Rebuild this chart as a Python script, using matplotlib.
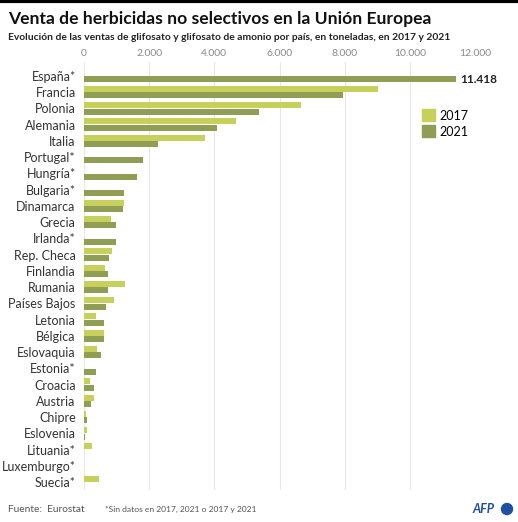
import numpy as np
import matplotlib
matplotlib.use('Agg')
import matplotlib.pyplot as plt
import matplotlib.patches as mpatches

matplotlib.rcParams['font.family'] = ['Lato', 'DejaVu Sans']

countries = ['España*', 'Francia', 'Polonia', 'Alemania', 'Italia', 'Portugal*',
             'Hungría*', 'Bulgaria*', 'Dinamarca', 'Grecia', 'Irlanda*', 'Rep. Checa',
             'Finlandia', 'Rumania', 'Países Bajos', 'Letonia', 'Bélgica', 'Eslovaquia',
             'Estonia*', 'Croacia', 'Austria', 'Chipre', 'Eslovenia', 'Lituania*',
             'Luxemburgo*', 'Suecia*']

# toneladas, NaN = sin datos
sales_2017 = [np.nan, 9020, 6670, 4680, 3710, np.nan,
              np.nan, np.nan, 1240, 830, np.nan, 850,
              645, 1260, 930, 380, 615, 410,
              np.nan, 195, 320, 60, 80, 235,
              10, 470]
sales_2021 = [11418, 7950, 5370, 4090, 2270, 1820,
              1625, 1240, 1205, 990, 985, 775,
              725, 725, 685, 615, 605, 520,
              355, 295, 215, 100, 40, np.nan,
              np.nan, np.nan]

xticks = [0, 2000, 4000, 6000, 8000, 10000, 12000]
xtick_labels = ['0', '2.000', '4.000', '6.000', '8.000', '10.000', '12.000']

COLOR_2017 = '#c6d05a'
COLOR_2021 = '#8f9d55'

fig = plt.figure(figsize=(5.18, 5.22), dpi=100)
fig.patch.set_facecolor('white')

# axes placed in pixel terms: x 84..475, y 62..490
W, H = 518, 522
top_px, bot_px = 62, 490
ax = fig.add_axes([84 / W, 1 - bot_px / H, (475 - 84) / W, (bot_px - top_px) / H])

row_px = 16.24
first_center = 76
ytop = (top_px - first_center) / row_px
ybot = (bot_px - first_center) / row_px

y = np.arange(len(countries))
bh = 0.37
ax.barh(y - 0.2, sales_2017, height=bh, color=COLOR_2017, zorder=3)
ax.barh(y + 0.2, sales_2021, height=bh, color=COLOR_2021, zorder=3)

ax.set_xlim(0, 12000)
ax.set_ylim(ybot, ytop)
ax.set_xticks(xticks)
ax.set_xticklabels(xtick_labels)
ax.xaxis.tick_top()
ax.tick_params(axis='x', length=0, pad=3, labelsize=7.5, labelcolor='#8a8a8a')
ax.set_yticks(y)
ax.set_yticklabels(countries)
ax.tick_params(axis='y', length=0, pad=6, labelsize=9, labelcolor='#333333')
for s in ax.spines.values():
    s.set_visible(False)
ax.grid(axis='x', color='#e8e8e8', lw=0.8, zorder=0)

ax.text(sales_2021[0] + 120, 0.2, '11.418', va='center', ha='left',
        fontsize=8.5, fontweight='bold', color='#222222')

patch_2017 = mpatches.Patch(color=COLOR_2017, label='2017')
patch_2021 = mpatches.Patch(color=COLOR_2021, label='2021')
ax.legend(handles=[patch_2017, patch_2021], loc='upper left',
          bbox_to_anchor=((416 - 84) / (475 - 84), 1 - (103 - top_px) / (bot_px - top_px)),
          frameon=False, fontsize=9, handlelength=1.0, handleheight=1.1,
          handletextpad=0.4, labelspacing=0.3, borderpad=0)

# header
fig.add_artist(plt.Line2D([0, 1], [1 - 1 / H, 1 - 1 / H], color='black', lw=3))
fig.text(8 / W, 1 - 19 / H, 'Venta de herbicidas no selectivos en la Unión Europea',
         fontsize=12.6, fontweight='bold', color='#111111', va='center')
fig.text(8 / W, 1 - 38 / H,
         'Evolución de las ventas de glifosato y glifosato de amonio por país, en toneladas, en 2017 y 2021',
         fontsize=7.35, fontweight='bold', color='#222222', va='center')

# footer
fig.text(8 / W, 1 - 509 / H, 'Fuente:  Eurostat', fontsize=7.3, color='#555555', va='center')
fig.text(105 / W, 1 - 509 / H, '*Sin datos en 2017, 2021 o 2017 y 2021',
         fontsize=6.1, color='#555555', va='center')
fig.text(472 / W, 1 - 509 / H, 'AFP', fontsize=9, fontweight='bold', style='italic',
         color='#1f4fa0', va='center', ha='left')
fig.add_artist(mpatches.Ellipse((507 / W, 1 - 509 / H), 11 / W, 11 / H,
                                color='#1f4fa0', transform=fig.transFigure))

plt.savefig('out.png', dpi=100)
